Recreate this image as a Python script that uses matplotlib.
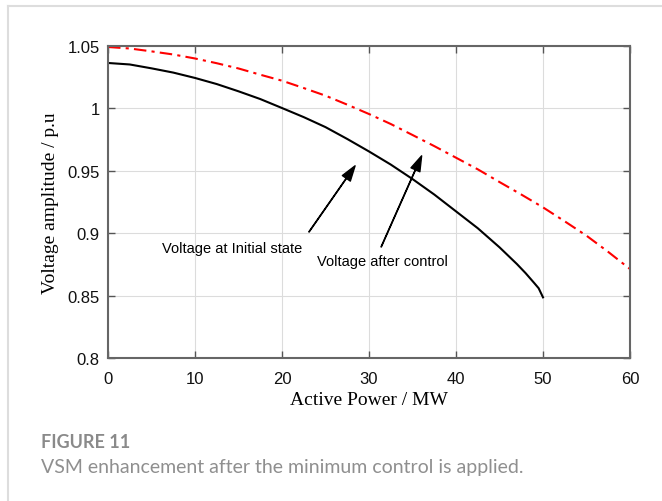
import matplotlib
matplotlib.use('Agg')
import matplotlib.pyplot as plt
from matplotlib.lines import Line2D

# Voltage vs active power, before and after control
power_initial = [0, 2.5, 5, 7.5, 10, 12.5, 15, 17.5, 20, 22.5, 25, 27.5, 30, 32.5, 35,
                 37.5, 40, 42.5, 45, 46, 47, 48, 49, 49.5, 50]
volt_initial = [1.0364, 1.0352, 1.0321, 1.0287, 1.0244, 1.0195, 1.0137, 1.0075, 1.0003, 0.993,
                0.985, 0.9755, 0.9655, 0.955, 0.9434, 0.931, 0.9175, 0.904, 0.8887, 0.882,
                0.8753, 0.868, 0.860, 0.8559, 0.8486]

power_control = [0, 2.5, 5, 7.5, 10, 12.5, 15, 17.5, 20, 22.5, 25, 27.5, 30, 32.5, 35,
                 37.5, 40, 42.5, 45, 47.5, 50, 52.5, 55, 57.5, 60]
volt_control = [1.0492, 1.048, 1.0457, 1.0432, 1.040, 1.0362, 1.032, 1.027, 1.0222, 1.0163,
                1.0102, 1.003, 0.9955, 0.9875, 0.9787, 0.9698, 0.9605, 0.9512, 0.941, 0.931,
                0.9207, 0.9095, 0.898, 0.885, 0.8713]

x_ticks = [0, 10, 20, 30, 40, 50, 60]
y_ticks = [0.8, 0.85, 0.9, 0.95, 1.0, 1.05]
y_tick_labels = ['0.8', '0.85', '0.9', '0.95', '1', '1.05']

fig = plt.figure(figsize=(6.62, 5.02), dpi=100)
fig.patch.set_facecolor('white')

# card outline along the top and left edges
fig.add_artist(Line2D([8 / 662, 1.0], [1 - 7 / 502, 1 - 7 / 502], color='#dddddd', lw=1.5))
fig.add_artist(Line2D([8 / 662, 8 / 662], [0.0, 1 - 7 / 502], color='#dddddd', lw=1.5))

ax = fig.add_axes([108 / 662, 1 - 359 / 502, 522 / 662, 312 / 502])

ax.plot(power_initial, volt_initial, color='black', lw=1.5)
ax.plot(power_control, volt_control, color='#ff0000', lw=1.5, linestyle=(0, (6, 2.5, 1.5, 2.5)))

ax.set_xlim(0, 60)
ax.set_ylim(0.8, 1.05)
ax.set_xticks(x_ticks)
ax.set_yticks(y_ticks)
ax.set_yticklabels(y_tick_labels)
ax.grid(True, color='#dcdcdc', lw=0.8)
ax.set_axisbelow(True)

ax.tick_params(direction='in', top=True, right=True, length=5, width=1,
               color='#555555', labelsize=12, labelcolor='#111111')
ax.tick_params(axis='x', pad=9)
ax.tick_params(axis='y', pad=6)
for lbl in ax.get_xticklabels() + ax.get_yticklabels():
    lbl.set_family('Liberation Sans')
for sp in ax.spines.values():
    sp.set_color('#666666')
    sp.set_linewidth(1.5)

ax.set_xlabel('Active Power / MW', family='Liberation Serif', fontsize=14, labelpad=4)
ax.set_ylabel('Voltage amplitude / p.u', family='Liberation Serif', fontsize=14, labelpad=6)

arrow = dict(facecolor='black', edgecolor='black', width=0.3, headwidth=7, headlength=11, shrink=0)
ax.annotate('', xy=(28.4, 0.954), xytext=(23.1, 0.901), arrowprops=arrow)
ax.annotate('', xy=(36.05, 0.962), xytext=(31.4, 0.889), arrowprops=arrow)
ax.text(6.2, 0.8885, 'Voltage at Initial state', family='Liberation Sans', fontsize=10.5, va='center')
ax.text(24.0, 0.8775, 'Voltage after control', family='Liberation Sans', fontsize=10.5, va='center')

fig.text(41 / 662, 1 - 443 / 502, 'FIGURE 11', family='Lato', weight='bold',
         fontsize=13, color='#8a8a8a', va='center')
fig.text(41 / 662, 1 - 468 / 502, 'VSM enhancement after the minimum control is applied.',
         family='Lato', fontsize=14, color='#8f8f8f', va='center')

fig.savefig('out.png', dpi=100)
